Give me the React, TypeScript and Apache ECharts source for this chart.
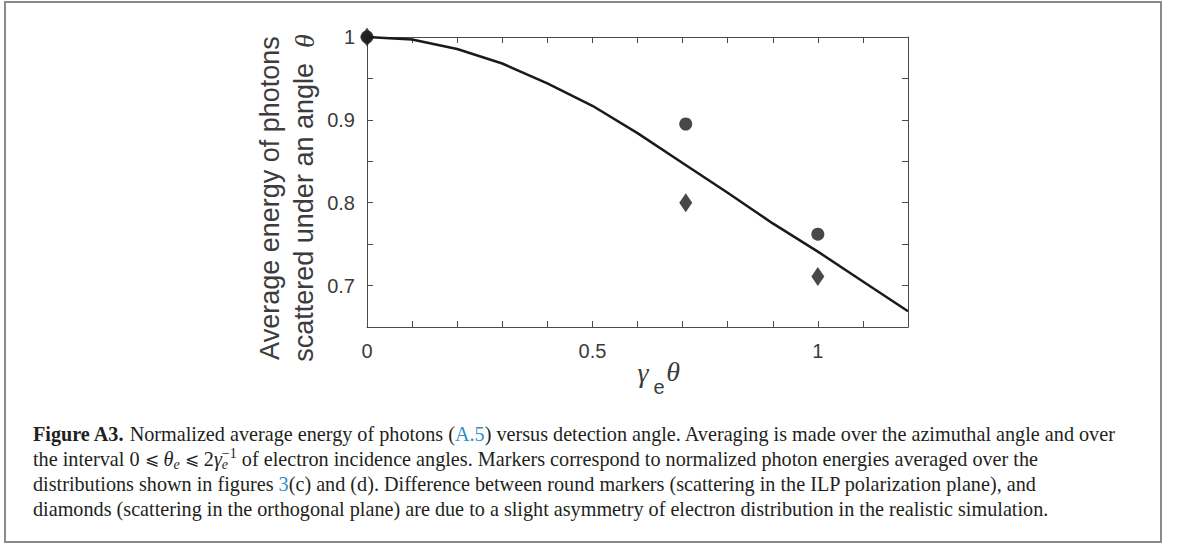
import React, { useEffect, useRef } from 'react';
import * as echarts from 'echarts';

const curveX = [0, 0.1, 0.2, 0.3, 0.4, 0.5, 0.6, 0.7, 0.8, 0.9, 1.0, 1.1, 1.2];
const curveY = [1.0, 0.997, 0.9855, 0.968, 0.944, 0.917, 0.884, 0.848, 0.812, 0.775, 0.741, 0.705, 0.669];
const roundX = [0, 0.707, 1.0];
const roundY = [1.0, 0.895, 0.762];
const diamondX = [0, 0.707, 1.0];
const diamondY = [1.0, 0.8, 0.711];
const xTickLabels = ['0', '0.5', '1'];
const yTickLabels = ['0.7', '0.8', '0.9', '1'];
const yTitleLines = ['Average energy of photons', 'scattered under an angle'];
const captionLines = [
  '{b|Figure A3.} Normalized average energy of photons ({l|A.5}) versus detection angle. Averaging is made over the azimuthal angle and over',
  'the interval 0 {m|⩽} {i|θ}{sub|e} {m|⩽} 2{i|γ}{subz|e}{sup|−1} of electron incidence angles. Markers correspond to normalized photon energies averaged over the',
  'distributions shown in figures {l|3}(c) and (d). Difference between round markers (scattering in the ILP polarization plane), and',
  'diamonds (scattering in the orthogonal plane) are due to a slight asymmetry of electron distribution in the realistic simulation.',
];

const AXIS = '#4a4a4a';
const TXT = '#3c3c3c';
const INK = '#1a1a1a';
const SANS = '"Liberation Sans", Arial, sans-serif';
const SERIF = '"Liberation Serif", "Times New Roman", serif';

export default function App() {
  const ref = useRef<HTMLDivElement>(null);
  useEffect(() => {
    if (!ref.current) return;
    const chart = echarts.init(ref.current, undefined, { renderer: 'svg' });
    const axisCommon = {
      type: 'value' as const,
      splitLine: { show: false },
      axisLine: { show: true, onZero: false, lineStyle: { color: AXIS, width: 1 } },
      axisTick: { show: true, inside: true, length: 6, lineStyle: { color: AXIS, width: 1 } },
    };
    const capFont = 20.2;
    const capLH = 25;
    chart.setOption({
      animation: false,
      backgroundColor: '#ffffff',
      grid: { left: 367, top: 37, width: 541, height: 290, containLabel: false },
      xAxis: [
        {
          ...axisCommon,
          position: 'bottom',
          min: 0,
          max: 1.2,
          interval: 0.1,
          axisLabel: {
            color: TXT,
            fontSize: 20,
            fontFamily: SANS,
            margin: 14,
            showMinLabel: true,
            showMaxLabel: true,
            formatter: (v: number) => {
              const s = String(Math.round(v * 10) / 10);
              return xTickLabels.includes(s) ? s : '';
            },
          },
        },
        {
          ...axisCommon,
          position: 'top',
          min: 0,
          max: 1.2,
          interval: 0.1,
          axisLabel: { show: false },
        },
      ],
      yAxis: [
        {
          ...axisCommon,
          position: 'left',
          min: 0.65,
          max: 1.0,
          interval: 0.05,
          axisLabel: {
            color: TXT,
            fontSize: 20,
            fontFamily: SANS,
            margin: 12,
            showMinLabel: true,
            showMaxLabel: true,
            formatter: (v: number) => {
              const s = String(Math.round(v * 100) / 100);
              return yTickLabels.includes(s) ? s : '';
            },
          },
        },
        {
          ...axisCommon,
          position: 'right',
          min: 0.65,
          max: 1.0,
          interval: 0.05,
          axisLabel: { show: false },
        },
      ],
      series: [
        {
          type: 'line',
          data: curveX.map((x, i) => [x, curveY[i]]),
          showSymbol: false,
          symbol: 'none',
          clip: false,
          lineStyle: { color: INK, width: 2.5 },
          z: 2,
        },
        {
          type: 'scatter',
          data: roundX.map((x, i) => [x, roundY[i]]),
          symbol: 'circle',
          symbolSize: 13,
          clip: false,
          itemStyle: { color: INK },
          z: 3,
        },
        {
          type: 'scatter',
          data: diamondX.map((x, i) => [x, diamondY[i]]),
          symbol: 'diamond',
          symbolSize: [13, 19],
          clip: false,
          itemStyle: { color: INK },
          z: 4,
        },
      ],
      graphic: [
        {
          type: 'rect',
          silent: true,
          shape: { x: 5, y: 2, width: 1156, height: 540 },
          style: { fill: 'none', stroke: '#8a8a8a', lineWidth: 2 },
        },
        {
          type: 'text',
          silent: true,
          x: 287,
          y: 198,
          rotation: Math.PI / 2,
          style: {
            text: yTitleLines[0] + '\n' + yTitleLines[1] + '  {th|θ}',
            font: `27px ${SANS}`,
            fill: TXT,
            align: 'center',
            verticalAlign: 'middle',
            lineHeight: 34,
            rich: {
              th: { fontFamily: SERIF, fontStyle: 'italic', fontSize: 28, fill: TXT, lineHeight: 34 },
            },
          },
        },
        {
          type: 'text',
          silent: true,
          x: 643,
          y: 372,
          style: { text: 'γ', font: `italic 28px ${SERIF}`, fill: TXT, align: 'center', verticalAlign: 'middle' },
        },
        {
          type: 'text',
          silent: true,
          x: 659,
          y: 387,
          style: { text: 'e', font: `20px ${SANS}`, fill: TXT, align: 'center', verticalAlign: 'middle' },
        },
        {
          type: 'text',
          silent: true,
          x: 673,
          y: 371,
          style: { text: 'θ', font: `italic 28px ${SERIF}`, fill: TXT, align: 'center', verticalAlign: 'middle' },
        },
        {
          type: 'text',
          silent: true,
          x: 33,
          y: 421,
          style: {
            text: captionLines.join('\n'),
            font: `${capFont}px ${SERIF}`,
            fill: '#231f20',
            align: 'left',
            verticalAlign: 'top',
            lineHeight: capLH,
            rich: {
              b: { fontFamily: SERIF, fontWeight: 'bold', fontSize: capFont, lineHeight: capLH, fill: '#231f20' },
              l: { fontFamily: SERIF, fontSize: capFont, lineHeight: capLH, fill: '#2f8fc8' },
              m: { fontFamily: '"DejaVu Serif", serif', fontSize: capFont - 3, lineHeight: capLH, fill: '#231f20' },
              i: { fontFamily: SERIF, fontStyle: 'italic', fontSize: capFont, lineHeight: capLH, fill: '#231f20' },
              sub: { fontFamily: SERIF, fontStyle: 'italic', fontSize: 14, lineHeight: 12, verticalAlign: 'bottom', fill: '#231f20' },
              subz: { fontFamily: SERIF, fontStyle: 'italic', fontSize: 14, lineHeight: 12, verticalAlign: 'bottom', width: 0, align: 'left', fill: '#231f20' },
              sup: { fontFamily: SERIF, fontSize: 14, lineHeight: 12, verticalAlign: 'top', fill: '#231f20' },
            },
          },
        },
      ],
    });
    return () => chart.dispose();
  }, []);
  return <div ref={ref} style={{ position: 'absolute', left: 0, top: 0, width: 1179, height: 544 }} />;
}
